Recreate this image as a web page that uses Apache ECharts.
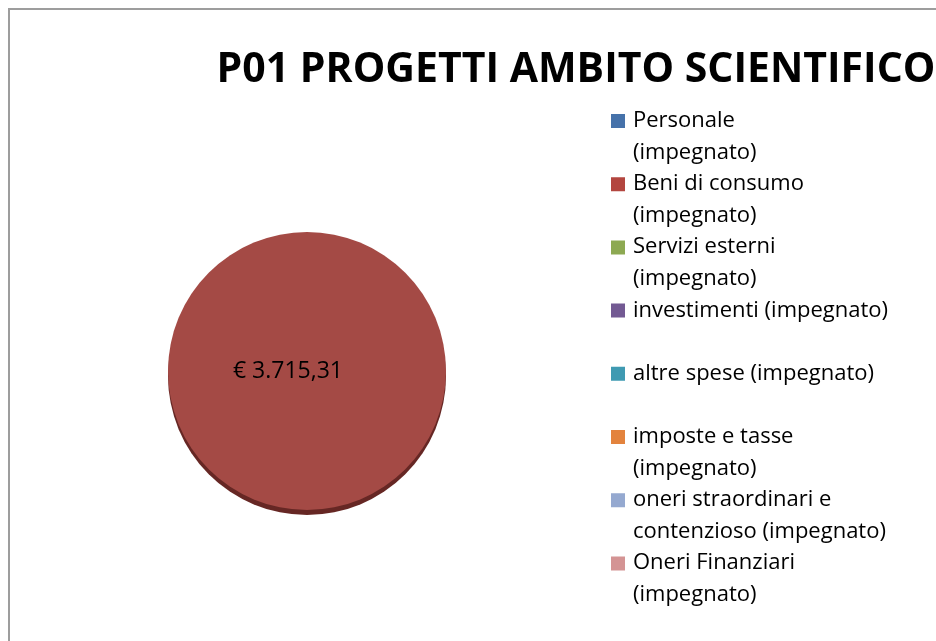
<!DOCTYPE html>
<html>
<head>
<meta charset="utf-8">
<script src="https://cdn.jsdelivr.net/npm/echarts@6/dist/echarts.min.js"></script>
<style>
  html, body { margin: 0; padding: 0; background: #fff; }
  #J_chart { width: 936px; height: 641px; }
</style>
</head>
<body>
<div id="J_chart"></div>
<script>
// voci di spesa (legenda) e importi impegnati
var categories = [
    'Personale\n(impegnato)',
    'Beni di consumo\n(impegnato)',
    'Servizi esterni\n(impegnato)',
    'investimenti (impegnato)\n ',
    'altre spese (impegnato)\n ',
    'imposte e tasse\n(impegnato)',
    'oneri straordinari e\ncontenzioso (impegnato)',
    'Oneri Finanziari\n(impegnato)'
];
var values = [0, 3715.31, 0, 0, 0, 0, 0, 0];
var legendColors = ['#4672AA', '#B3463F', '#8DA952', '#735A93', '#3F9AB2', '#E3833D', '#95A9D0', '#D49494'];
var chartTitle = 'P01 PROGETTI AMBITO SCIENTIFICO';

var faceColor = '#A44A45';
var rimColor = '#662724';

function formatEuro(v){
    var parts = v.toFixed(2).split('.');
    var intPart = parts[0].replace(/\B(?=(\d{3})+(?!\d))/g, '.');
    return '€ ' + intPart + ',' + parts[1];
}

var faceData = [];
var rimData = [];
var legendData = [];
for (var i = 0; i < categories.length; i++) {
    faceData.push({name: categories[i], value: values[i], itemStyle: {color: i === 1 ? faceColor : legendColors[i]}});
    rimData.push({name: categories[i], value: values[i], itemStyle: {color: rimColor}});
    legendData.push({name: categories[i], itemStyle: {color: legendColors[i]}});
}

var chart = echarts.init(document.getElementById('J_chart'));
var option = {
    backgroundColor: '#fff',
    animation: false,
    title: {
        text: chartTitle,
        left: 571,
        top: 45,
        textAlign: 'center',
        textStyle: {
            fontFamily: 'Open Sans',
            fontWeight: 'bold',
            fontSize: 41,
            color: '#000'
        }
    },
    legend: {
        orient: 'vertical',
        left: 611,
        top: 105,
        padding: 0,
        itemGap: 0,
        itemWidth: 17,
        itemHeight: 63.2,
        // quadratino allineato alla prima riga del testo
        icon: 'path://M0,9 L14,9 L14,23 L0,23 Z M0,0 L17,0 M0,63.2 L17,63.2',
        itemStyle: {borderWidth: 0},
        textStyle: {
            fontFamily: 'Open Sans',
            fontSize: 22,
            lineHeight: 31.6,
            color: '#000'
        },
        data: legendData
    },
    graphic: [{
        type: 'rect',
        silent: true,
        shape: {x: 9, y: 9, width: 1200, height: 1200},
        style: {fill: 'none', stroke: '#9d9d9d', lineWidth: 2}
    }],
    series: [
        {
            name: 'bordo',
            type: 'pie',
            silent: true,
            center: [307, 376],
            radius: 139,
            startAngle: 90,
            label: {show: false},
            labelLine: {show: false},
            itemStyle: {borderWidth: 0},
            data: rimData
        },
        {
            name: 'P01',
            type: 'pie',
            center: [307, 371],
            radius: 139,
            startAngle: 90,
            itemStyle: {borderWidth: 0},
            label: {
                show: true,
                position: 'center',
                padding: [0, 38, 0, 0],
                fontFamily: 'Open Sans',
                fontSize: 23,
                color: '#000',
                formatter: function(p){
                    return p.value ? formatEuro(p.value) : '';
                }
            },
            labelLine: {show: false},
            data: faceData
        }
    ]
};
chart.setOption(option);
</script>
</body>
</html>
